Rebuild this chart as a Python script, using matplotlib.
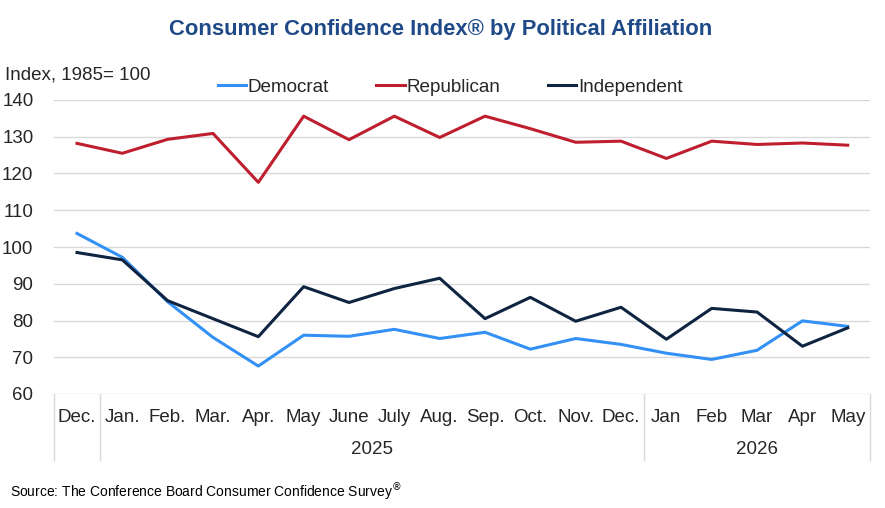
import matplotlib
matplotlib.use("Agg")
import matplotlib.pyplot as plt
import matplotlib.transforms as mtransforms

plt.rcParams["font.family"] = ["Liberation Sans", "DejaVu Sans"]

months = ["Dec.", "Jan.", "Feb.", "Mar.", "Apr.", "May", "June", "July", "Aug.",
          "Sep.", "Oct.", "Nov.", "Dec.", "Jan", "Feb", "Mar", "Apr", "May"]
years = ["2025", "2026"]

democrat = [103.7, 97.2, 85.1, 75.4, 67.6, 76.0, 75.7, 77.6, 75.1,
            76.8, 72.2, 75.1, 73.5, 71.1, 69.4, 71.9, 79.9, 78.4]
republican = [128.2, 125.5, 129.3, 130.9, 117.6, 135.6, 129.2, 135.6, 129.8,
              135.6, 132.2, 128.5, 128.8, 124.1, 128.8, 127.9, 128.3, 127.7]
independent = [98.5, 96.5, 85.4, 80.5, 75.6, 89.2, 84.9, 88.7, 91.5,
               80.5, 86.3, 79.8, 83.6, 74.9, 83.3, 82.3, 73.0, 78.0]

W, H = 885, 508
fig = plt.figure(figsize=(W / 100, H / 100), dpi=100)
ax = fig.add_axes([54.3 / W, 1 - 394 / H, (870.4 - 54.3) / W, 294 / H])

x = list(range(len(months)))
ax.plot(x, democrat, color="#3391F5", lw=2.2, label="Democrat")
ax.plot(x, republican, color="#BE1E2D", lw=2.2, label="Republican")
ax.plot(x, independent, color="#0E2441", lw=2.2, label="Independent")

ax.set_xlim(-0.5, len(months) - 0.5)
ax.set_ylim(60, 140)
ax.set_yticks(range(60, 141, 10))
ax.tick_params(axis="y", length=0, pad=15, labelsize=13.5, labelcolor="#262626")
ax.set_xticks([])
for s in ax.spines.values():
    s.set_visible(False)
ax.grid(axis="y", color="#D9D9D9", lw=1)
ax.set_axisbelow(True)

# category axis with month / year rows
trans = mtransforms.blended_transform_factory(ax.transData, ax.transAxes)
for i, m in enumerate(months):
    ax.text(i, -23 / 294, m, transform=trans, ha="center", va="center",
            fontsize=13.5, color="#262626")
ax.text(6.5, -56 / 294, years[0], transform=trans, ha="center", va="center",
        fontsize=13.5, color="#262626")
ax.text(15, -56 / 294, years[1], transform=trans, ha="center", va="center",
        fontsize=13.5, color="#262626")
for xs in [-0.5, 0.5, 12.5, len(months) - 0.5]:
    ax.plot([xs, xs], [0, -66 / 294], transform=trans, color="#D9D9D9",
            lw=1, clip_on=False)

fig.text(441 / W, 1 - 30 / H, "Consumer Confidence Index® by Political Affiliation",
         ha="center", va="center", fontsize=15.8, fontweight="bold", color="#1F4A87")
fig.text(5 / W, 1 - 75 / H, "Index, 1985= 100", ha="left", va="center",
         fontsize=13.5, color="#262626")
fig.text(10 / W, 1 - 492 / H, "Source: The Conference Board Consumer Confidence Survey$^{®}$",
         ha="left", va="center", fontsize=10, color="#000000")

fig.legend(loc="center", bbox_to_anchor=(450 / W, 1 - 87 / H), ncol=3, frameon=False,
           fontsize=13.6, handlelength=1.5, handletextpad=0.1, columnspacing=2.5,
           labelcolor="#262626")

fig.savefig("out.png", dpi=100)
